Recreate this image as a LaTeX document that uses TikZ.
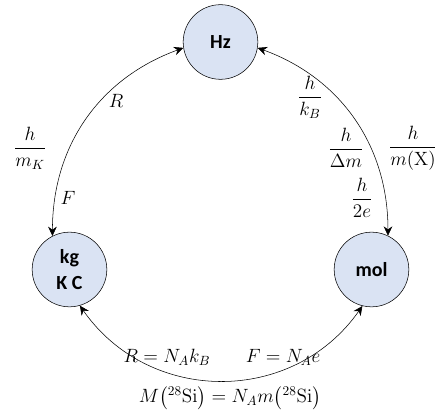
\documentclass[tikz,border=0pt]{standalone}
\usepackage{amsmath}
\usepackage[no-math]{fontspec}
\setmainfont{Carlito}
\usetikzlibrary{arrows.meta}
\definecolor{unitfill}{HTML}{DAE3F3}

\begin{document}
\begin{tikzpicture}[x=0.75pt,y=0.75pt,>={Stealth[length=7pt,width=6.5pt]},font=\fontsize{14}{16}\selectfont]
\tikzstyle{u}=[draw,circle,fill=unitfill,minimum size=56pt,inner sep=0pt,align=center,font=\fontsize{15}{19}\selectfont\bfseries]
\tikzstyle{c}=[<->,thin]
\useasboundingbox (0,0) rectangle (435,414);
% the three units
\node[u] (hz) at (220.5,372) {Hz};
\node[u] (kg) at (69.5,144.5) {kg\\K C};
\node[u] (mol) at (371.5,144.5) {mol};
% links between them
\draw[c] (hz.189) to[out=200,in=90] (kg.117);
\draw[c] (hz.-9) to[out=-20,in=90] (mol.64);
\draw[c] (kg.-74) to[out=-55,in=-125,looseness=1.1] (mol.-104);
% constants
\node (r) at (116,313) {$R$};
\node (hmk) at (30,266) {$\dfrac{h}{m_K}$};
\node (f) at (68,216) {$F$};
\node (hkb) at (310,317) {$\dfrac{h}{k_B}$};
\node (hdm) at (346,266) {$\dfrac{h}{\Delta m}$};
\node (hmx) at (413,266) {$\dfrac{h}{m(\mathrm{X})}$};
\node (h2e) at (362,216) {$\dfrac{h}{2e}$};
\node (rna) at (167,57) {$R = N_A k_B$};
\node (fna) at (283,57) {$F = N_A e$};
\node (msi) at (230,16) {$M\bigl({}^{28}\mathrm{Si}\bigr) = N_A m\bigl({}^{28}\mathrm{Si}\bigr)$};
\end{tikzpicture}
\end{document}
